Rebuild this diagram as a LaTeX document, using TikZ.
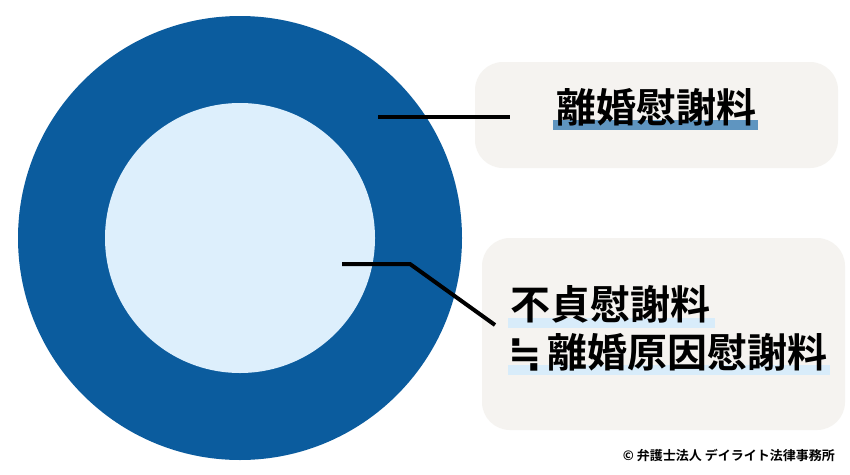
\documentclass[tikz,border=0pt]{standalone}
\usepackage{fontspec}
\newfontfamily\jpfont{Noto Sans CJK JP Bold}
\newfontfamily\symfont{DejaVu Sans}
\definecolor{ringblue}{HTML}{0B5C9E}
\definecolor{coreblue}{HTML}{DDEFFC}
\definecolor{boxgray}{HTML}{F5F3F0}
\definecolor{markblue}{HTML}{5F95C0}
\definecolor{marklight}{HTML}{D8ECFA}
\tikzset{
  labelbox/.style={fill=boxgray, rounded corners=28pt},
  leader/.style={line width=4pt, black},
  term/.style={font=\jpfont\fontsize{40}{42}\selectfont, inner sep=0pt, anchor=west}
}
\begin{document}
\begin{tikzpicture}[x=1pt,y=-1pt]
		\useasboundingbox[fill=white] (0,0) rectangle (850,474);
		\fill[ringblue] (240,238) circle (222);
		\fill[coreblue] (240,238) circle (135);

		\fill[labelbox] (475,62) rectangle (838,168);
		\fill[labelbox] (482,238) rectangle (845,430);

		\fill[markblue] (553,120) rectangle (758,130);
		\fill[marklight] (508,318) rectangle (715,328);
		\fill[marklight] (508,365) rectangle (830,375);

		\node[term] (divorce) at (556,107) {離婚慰謝料};
		\node[term] (affair) at (510,304) {不貞慰謝料};
		\node[term] (cause) at (508,352) {{\symfont\bfseries ≒}\hspace{6pt}離婚原因慰謝料};
		\node[font=\jpfont\fontsize{13}{15}\selectfont, anchor=east, inner sep=0pt] (credit) at (835,455) {© 弁護士法人 デイライト法律事務所};

		\coordinate (ringpt) at (378,117);
		\coordinate (ringend) at (510,117);
		\coordinate (corept) at (342,264);
		\coordinate (bend) at (410,264);
		\coordinate (coreend) at (495,325);
		\draw[leader] (ringpt) -- (ringend);
		\draw[leader] (corept) -- (bend) -- (coreend);
	\end{tikzpicture}
\end{document}
